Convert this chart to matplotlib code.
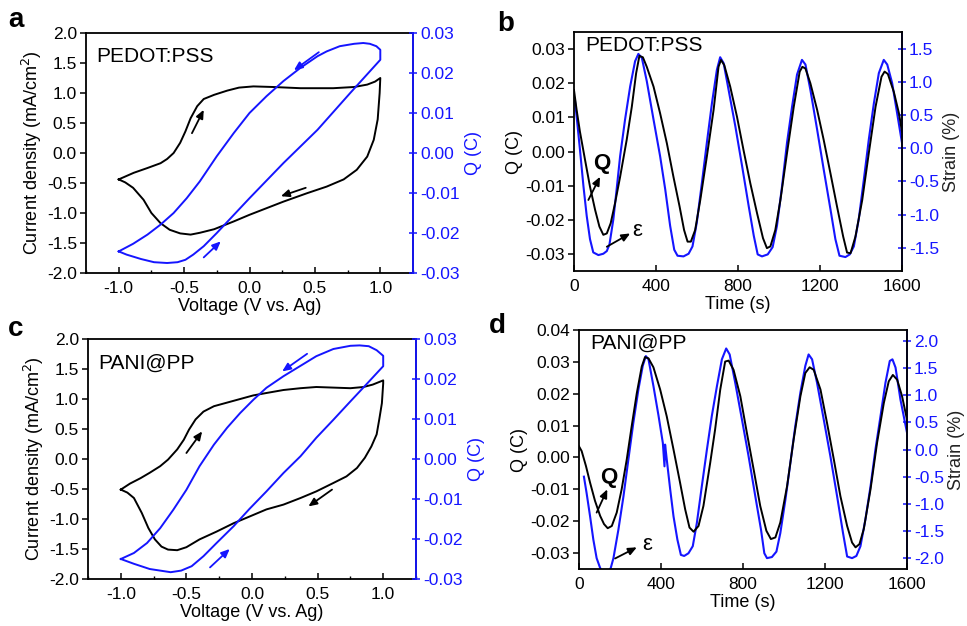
import matplotlib
matplotlib.use("Agg")
import matplotlib.pyplot as plt
from matplotlib.ticker import MultipleLocator, AutoMinorLocator, FormatStrFormatter

plt.rcParams['font.family'] = ['Liberation Sans', 'DejaVu Sans']
BLUE = '#1515ff'

# ---------------- Panel a: PEDOT:PSS CV ----------------
a_cv_V = [-1.0, -0.885, -0.78, -0.68, -0.63, -0.58, -0.53, -0.49, -0.45, -0.40, -0.35, -0.27,
          -0.17, -0.08, 0.03, 0.18, 0.39, 0.64, 0.80, 0.90, 0.96, 1.0,
          0.995, 0.98, 0.95, 0.90, 0.82, 0.72, 0.59, 0.44, 0.26, 0.13, 0.0, -0.12, -0.27,
          -0.38, -0.45, -0.53, -0.61, -0.68, -0.75, -0.81, -0.89, -0.95, -1.0]
a_cv_J = [-0.44, -0.33, -0.25, -0.17, -0.10, 0.0, 0.17, 0.36, 0.58, 0.78, 0.90, 0.97,
          1.04, 1.09, 1.11, 1.10, 1.08, 1.08, 1.10, 1.14, 1.19, 1.25,
          1.0, 0.56, 0.22, -0.06, -0.28, -0.44, -0.56, -0.67, -0.81, -0.92, -1.03, -1.14, -1.27,
          -1.33, -1.36, -1.34, -1.28, -1.17, -1.0, -0.78, -0.58, -0.49, -0.44]
a_q_V = [-1.0, -0.94, -0.83, -0.73, -0.63, -0.55, -0.49, -0.43, -0.35, -0.25, 0.0, 0.26,
         0.52, 0.77, 1.0,
         1.0, 0.97, 0.92, 0.87, 0.80, 0.69, 0.59, 0.52, 0.39, 0.26, 0.13, 0.0, -0.12, -0.25,
         -0.38, -0.48, -0.58, -0.68, -0.78, -0.89, -1.0]
a_q_Q = [-0.0246, -0.0254, -0.0265, -0.0273, -0.0275, -0.0273, -0.0267, -0.0254, -0.0233,
         -0.020, -0.0113, -0.0025, 0.0058, 0.015, 0.0233,
         0.0258, 0.0267, 0.0273, 0.0275, 0.0273, 0.0267, 0.0254, 0.0242, 0.0213, 0.018,
         0.0142, 0.010, 0.005, -0.0008, -0.0071, -0.0113, -0.015, -0.0179, -0.0204, -0.0227,
         -0.0246]
# arrows: (x0, y0, x1, y1)
a_arrows_J = [(-0.44, 0.33, -0.35, 0.72), (0.43, -0.58, 0.24, -0.72)]
a_arrows_Q = [(0.53, 0.0252, 0.34, 0.0207), (-0.35, -0.0261, -0.22, -0.0221)]

# ---------------- Panel c: PANI@PP CV ----------------
c_cv_V = [-1.0, -0.93, -0.85, -0.78, -0.70, -0.64, -0.57, -0.52, -0.48, -0.43, -0.37, -0.29,
          -0.19, -0.09, 0.01, 0.11, 0.24, 0.37, 0.49, 0.62, 0.75, 0.85, 0.92, 1.0,
          1.0, 0.99, 0.97, 0.95, 0.91, 0.86, 0.80, 0.72, 0.62, 0.49, 0.37, 0.24, 0.11, -0.02,
          -0.14, -0.27, -0.40, -0.50, -0.57, -0.64, -0.69, -0.74, -0.79, -0.84, -0.90, -0.95,
          -1.0]
c_cv_J = [-0.51, -0.41, -0.32, -0.23, -0.12, -0.01, 0.16, 0.32, 0.49, 0.66, 0.79, 0.88,
          0.94, 1.0, 1.06, 1.10, 1.15, 1.18, 1.20, 1.19, 1.18, 1.20, 1.24, 1.31,
          1.26, 0.93, 0.66, 0.41, 0.21, 0.02, -0.15, -0.29, -0.40, -0.54, -0.65, -0.76, -0.84,
          -0.96, -1.07, -1.21, -1.34, -1.47, -1.52, -1.51, -1.46, -1.34, -1.15, -0.90, -0.65,
          -0.56, -0.51]
c_q_V = [-1.0, -0.90, -0.78, -0.62, -0.54, -0.46, -0.37, -0.27, -0.14, -0.02, 0.11, 0.24,
         0.37, 0.49, 0.62, 0.75, 0.87, 1.0,
         1.0, 0.95, 0.89, 0.82, 0.75, 0.62, 0.49, 0.37, 0.24, 0.11, 0.01, -0.09, -0.19, -0.29,
         -0.40, -0.50, -0.60, -0.70, -0.80, -0.90, -1.0]
c_q_Q = [-0.025, -0.0262, -0.0275, -0.0283, -0.0279, -0.0268, -0.0243, -0.021, -0.0168,
         -0.0125, -0.0081, -0.0035, 0.0007, 0.0053, 0.0098, 0.0144, 0.0186, 0.0232,
         0.0258, 0.0272, 0.0282, 0.0284, 0.0283, 0.0275, 0.0257, 0.0233, 0.0207, 0.0178,
         0.0148, 0.0115, 0.0078, 0.0036, -0.0018, -0.0077, -0.0127, -0.0173, -0.021, -0.0235,
         -0.025]
c_arrows_J = [(-0.50, 0.10, -0.38, 0.46), (0.61, -0.51, 0.43, -0.79)]
c_arrows_Q = [(0.42, 0.0263, 0.23, 0.0219), (-0.32, -0.0271, -0.17, -0.0225)]

# ---------------- Panel b: PEDOT:PSS Q & strain vs time ----------------
b_t_Q = [0, 13, 29, 54, 78, 103, 124, 143, 160, 179, 200, 225, 257, 282, 303, 319, 336, 355,
         388, 420, 453, 485, 515, 537, 554, 570, 591, 616, 648, 681, 705, 717, 733, 762, 795,
         827, 860, 893, 922, 941, 958, 982, 1007, 1039, 1072, 1101, 1114, 1129, 1153, 1186,
         1218, 1251, 1283, 1313, 1332, 1349, 1373, 1406, 1438, 1471, 1500, 1515, 1531, 1560,
         1585, 1600]
b_Q = [0.018, 0.0121, 0.0058, -0.0025, -0.0103, -0.0171, -0.022, -0.0244, -0.024, -0.021,
       -0.0152, -0.0074, 0.0034, 0.0131, 0.0229, 0.028, 0.0276, 0.0248, 0.019, 0.0112, 0.0024,
       -0.0074, -0.0161, -0.023, -0.0264, -0.0264, -0.023, -0.0142, -0.0015, 0.0122, 0.0248,
       0.0268, 0.0253, 0.019, 0.0102, 0.0004, -0.0093, -0.0181, -0.0254, -0.0283, -0.0278,
       -0.023, -0.0142, -0.0005, 0.0131, 0.0234, 0.0248, 0.0243, 0.020, 0.0122, 0.0034,
       -0.0064, -0.0161, -0.0249, -0.0296, -0.0298, -0.0249, -0.0142, -0.0005, 0.0131, 0.0219,
       0.0234, 0.0227, 0.0175, 0.0112, 0.0058]
b_t_S = [5, 16, 29, 46, 62, 78, 94, 119, 143, 160, 173, 192, 208, 225, 249, 274, 298, 314,
         331, 355, 388, 420, 445, 469, 489, 505, 534, 559, 578, 599, 624, 648, 673, 697, 713,
         730, 754, 787, 820, 852, 877, 896, 917, 945, 969, 990, 1015, 1039, 1064, 1088, 1112,
         1129, 1153, 1186, 1218, 1251, 1275, 1295, 1324, 1345, 1365, 1389, 1414, 1438, 1463,
         1487, 1511, 1528, 1552, 1576, 1600]
b_S = [0.71, 0.38, -0.02, -0.57, -1.02, -1.37, -1.57, -1.61, -1.59, -1.55, -1.45, -1.07,
       -0.62, -0.12, 0.43, 0.93, 1.31, 1.42, 1.36, 1.01, 0.43, -0.12, -0.62, -1.17, -1.53,
       -1.62, -1.63, -1.59, -1.48, -1.12, -0.52, 0.08, 0.68, 1.18, 1.37, 1.28, 0.88, 0.33,
       -0.27, -0.87, -1.32, -1.60, -1.63, -1.60, -1.49, -1.17, -0.57, 0.08, 0.63, 1.11, 1.33,
       1.26, 0.88, 0.28, -0.32, -0.92, -1.37, -1.62, -1.64, -1.60, -1.48, -1.07, -0.47, 0.13,
       0.68, 1.13, 1.33, 1.26, 0.98, 0.53, 0.08]
b_Qlabel = (135, -0.0035)
b_Qarrow = (70, -0.0142, 127, -0.0074)
b_elabel = (306, -0.023)
b_earrow = (160, -0.0279, 274, -0.024)

# ---------------- Panel d: PANI@PP Q & strain vs time ----------------
d_t_Q = [0, 13, 34, 54, 78, 103, 122, 140, 160, 184, 208, 233, 257, 282, 306, 322, 339, 363,
         396, 428, 461, 493, 518, 539, 559, 583, 607, 640, 664, 689, 713, 730, 754, 787, 819,
         852, 884, 914, 936, 958, 982, 1015, 1047, 1080, 1104, 1125, 1145, 1178, 1210, 1243,
         1275, 1308, 1332, 1349, 1368, 1389, 1422, 1454, 1487, 1511, 1531, 1552, 1576, 1600]
d_Q = [0.0035, 0.002, -0.0027, -0.0079, -0.0136, -0.0183, -0.0209, -0.0222, -0.0215, -0.0173,
       -0.010, -0.0006, 0.0098, 0.0202, 0.0285, 0.0315, 0.0311, 0.0283, 0.0213, 0.0129, 0.0025,
       -0.0079, -0.0163, -0.022, -0.0233, -0.0215, -0.0152, -0.0017, 0.0088, 0.0213, 0.0301,
       0.0304, 0.0275, 0.0192, 0.0077, -0.0038, -0.0152, -0.023, -0.0256, -0.0251, -0.0204,
       -0.009, 0.0056, 0.0192, 0.0265, 0.0283, 0.0275, 0.0213, 0.0108, -0.0006, -0.0121,
       -0.0215, -0.0267, -0.0282, -0.0272, -0.0225, -0.010, 0.0046, 0.0171, 0.0239, 0.0259,
       0.0244, 0.0192, 0.0119]
d_t_S = [24, 37, 54, 70, 86, 103, 119, 138, 155, 168, 192, 217, 241, 265, 290, 311, 326, 339,
         363, 388, 409, 417, 420, 428, 445, 461, 480, 497, 513, 534, 555, 575, 599, 624, 648,
         673, 697, 718, 735, 762, 795, 827, 860, 888, 904, 917, 941, 963, 982, 1007, 1031, 1055,
         1080, 1104, 1120, 1137, 1161, 1194, 1226, 1259, 1288, 1308, 1332, 1353, 1373, 1397,
         1422, 1446, 1471, 1495, 1516, 1529, 1544, 1568, 1600]
d_S = [-0.5, -0.8, -1.23, -1.66, -2.0, -2.18, -2.28, -2.28, -2.18, -2.0, -1.48, -0.86, -0.18,
       0.49, 1.11, 1.54, 1.72, 1.66, 1.17, 0.62, 0.12, -0.31, 0.09, -0.18, -0.74, -1.23, -1.66,
       -1.94, -1.96, -1.91, -1.78, -1.35, -0.68, 0.0, 0.62, 1.17, 1.66, 1.86, 1.75, 1.23, 0.55,
       -0.12, -0.86, -1.48, -1.91, -2.0, -1.98, -1.88, -1.54, -0.92, -0.25, 0.43, 1.05, 1.54,
       1.75, 1.66, 1.23, 0.55, -0.12, -0.86, -1.54, -1.97, -2.0, -1.96, -1.78, -1.29, -0.68,
       0.0, 0.62, 1.23, 1.63, 1.66, 1.51, 0.92, 0.31]
d_Qlabel = (143, -0.0064)
d_Qarrow = (86, -0.0173, 138, -0.010)
d_elabel = (331, -0.0272)
d_earrow = (176, -0.0317, 282, -0.0282)

W, H = 967, 626
fig = plt.figure(figsize=(W / 100, H / 100), dpi=100)


def rect(l, t, r, b):
    return [l / W, 1 - b / H, (r - l) / W, (b - t) / H]


TICK_FS = 12.5
LAB_FS = 13


def style_left(ax, xminor):
    for s in ax.spines.values():
        s.set_linewidth(1.3)
    ax.tick_params(axis='x', direction='in', length=4, width=1.1, labelsize=TICK_FS,
                   pad=6, top=False)
    ax.tick_params(axis='x', which='minor', direction='in', length=2.5, width=1.0, top=False)
    ax.tick_params(axis='y', direction='out', length=4, width=1.1, labelsize=TICK_FS,
                   right=False, pad=2.5)
    if xminor:
        ax.xaxis.set_minor_locator(AutoMinorLocator(2))


def style_right(ax2):
    ax2.spines['right'].set_color(BLUE)
    ax2.spines['right'].set_linewidth(1.3)
    for k in ('left', 'top', 'bottom'):
        ax2.spines[k].set_visible(False)
    ax2.tick_params(axis='y', direction='inout', length=6, width=1.1, colors=BLUE,
                    labelsize=TICK_FS, pad=2)


def arrow(ax, x0, y0, x1, y1, color):
    ax.annotate('', xy=(x1, y1), xytext=(x0, y0),
                arrowprops=dict(arrowstyle='-|>,head_length=0.5,head_width=0.22',
                                color=color, lw=1.3, shrinkA=0, shrinkB=0))


def cv_panel(pos, V, J, qV, Q, arrJ, arrQ, label, letter, letter_xy):
    ax = fig.add_axes(rect(*pos))
    ax.plot(V, J, color='black', lw=1.4)
    ax.set_xlim(-1.25, 1.25)
    ax.set_ylim(-2.0, 2.0)
    ax.xaxis.set_major_locator(MultipleLocator(0.5))
    ax.yaxis.set_major_locator(MultipleLocator(0.5))
    ax.xaxis.set_major_formatter(FormatStrFormatter('%.1f'))
    ax.yaxis.set_major_formatter(FormatStrFormatter('%.1f'))
    style_left(ax, True)
    ax.set_xlabel('Voltage (V vs. Ag)', fontsize=LAB_FS, labelpad=1)
    ax.set_ylabel('Current density (mA/cm$^2$)', fontsize=LAB_FS, labelpad=2)
    for a in arrJ:
        arrow(ax, *a, 'black')
    ax.text(0.03, 0.94, label, transform=ax.transAxes, fontsize=15, va='top', ha='left')
    ax2 = ax.twinx()
    ax2.plot(qV, Q, color=BLUE, lw=1.4)
    ax2.set_ylim(-0.03, 0.03)
    ax2.yaxis.set_major_locator(MultipleLocator(0.01))
    ax2.yaxis.set_major_formatter(FormatStrFormatter('%.2f'))
    style_right(ax2)
    ax2.set_ylabel('Q (C)', color=BLUE, fontsize=LAB_FS, labelpad=4)
    for a in arrQ:
        arrow(ax2, *a, BLUE)
    fig.text(letter_xy[0] / W, 1 - letter_xy[1] / H, letter, fontsize=20, fontweight='bold',
             ha='left', va='center')
    return ax, ax2


def time_panel(pos, tQ, Qv, tS, Sv, qlim, qstep, slim, label, Ql, Qa, el, ea, letter,
               letter_xy):
    ax = fig.add_axes(rect(*pos))
    ax.set_xlim(0, 1600)
    ax.set_ylim(*qlim)
    ax.xaxis.set_major_locator(MultipleLocator(400))
    ax.yaxis.set_major_locator(MultipleLocator(qstep))
    ax.yaxis.set_major_formatter(FormatStrFormatter('%.2f'))
    style_left(ax, False)
    ax.set_xlabel('Time (s)', fontsize=LAB_FS, labelpad=1)
    ax.set_ylabel('Q (C)', fontsize=LAB_FS, labelpad=2)
    ax2 = ax.twinx()
    ax2.plot(tS, Sv, color=BLUE, lw=1.5, zorder=2)
    ax2.set_ylim(*slim)
    ax2.yaxis.set_major_locator(MultipleLocator(0.5))
    ax2.yaxis.set_major_formatter(FormatStrFormatter('%.1f'))
    style_right(ax2)
    ax2.set_ylabel('Strain (%)', color='#222222', fontsize=LAB_FS, labelpad=3)
    ax.set_zorder(ax2.get_zorder() + 1)
    ax.patch.set_visible(False)
    ax.plot(tQ, Qv, color='black', lw=1.4)
    ax.text(0.035, 0.985, label, transform=ax.transAxes, fontsize=15, va='top', ha='left')
    ax.text(Ql[0], Ql[1], 'Q', fontsize=16, fontweight='bold', ha='center', va='center')
    arrow(ax, *Qa, 'black')
    ax.text(el[0], el[1], 'ε', fontsize=16, ha='center', va='center')
    arrow(ax, *ea, 'black')
    fig.text(letter_xy[0] / W, 1 - letter_xy[1] / H, letter, fontsize=20, fontweight='bold',
             ha='left', va='center')
    return ax, ax2


cv_panel((86, 33, 413, 273), a_cv_V, a_cv_J, a_q_V, a_q_Q, a_arrows_J, a_arrows_Q,
         'PEDOT:PSS', 'a', (8, 20))
cv_panel((88, 339, 416, 579), c_cv_V, c_cv_J, c_q_V, c_q_Q, c_arrows_J, c_arrows_Q,
         'PANI@PP', 'c', (8, 329))
time_panel((574, 32, 902, 271), b_t_Q, b_Q, b_t_S, b_S, (-0.035, 0.035), 0.01,
           (-1.85, 1.75), 'PEDOT:PSS', b_Qlabel, b_Qarrow, b_elabel, b_earrow, 'b', (497, 24))
time_panel((579, 330, 907, 569), d_t_Q, d_Q, d_t_S, d_S, (-0.035, 0.04), 0.01,
           (-2.2, 2.2), 'PANI@PP', d_Qlabel, d_Qarrow, d_elabel, d_earrow, 'd', (489, 326))

fig.savefig('out.png', dpi=100)
